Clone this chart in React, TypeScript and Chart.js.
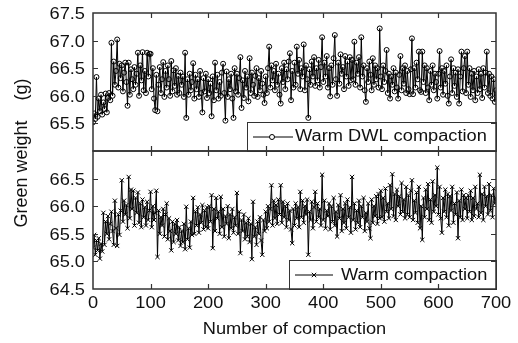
import React, { useEffect, useRef } from "react";
import { Chart, registerables } from "chart.js";

Chart.register(...registerables);

// ---------- data ----------
const COMPACTION_STEP = 2; // one sample every 2 compactions, 0..700
const xTickValues = [0, 100, 200, 300, 400, 500, 600, 700];
const topYTickValues = [65.5, 66.0, 66.5, 67.0, 67.5];
const bottomYTickValues = [64.5, 65.0, 65.5, 66.0, 66.5];

const topLabel = "Warm DWL compaction";
const bottomLabel = "Warm compaction";
const xTitle = "Number of compaction";
const yTitle = "Green weight    (g)";

const warmDwlWeights = [
  // 0-48
  65.52, 65.68, 65.58, 66.34, 65.62, 65.95, 65.72, 66.02, 65.66, 65.88, 65.76, 66.04, 65.7, 65.96, 66.05, 65.92, 66.96, 66.0, 66.62, 66.2, 66.45, 67.02, 66.15, 66.58, 66.32,
  // 50-98
  66.55, 66.08, 66.42, 66.6, 66.25, 65.82, 66.6, 66.02, 66.48, 66.3, 66.12, 66.52, 66.2, 66.4, 66.78, 66.0, 66.55, 66.28, 66.79, 66.1, 66.45, 66.05, 66.78, 66.35, 66.76,
  // 100-148
  66.76, 66.12, 66.5, 65.95, 65.74, 66.38, 65.72, 66.2, 66.52, 66.05, 66.3, 66.61, 65.98, 66.45, 66.15, 66.55, 66.3, 66.0, 66.63, 66.08, 66.46, 66.18, 66.5, 66.02, 66.36,
  // 150-198
  66.05, 66.42, 66.2, 66.35, 65.98, 66.78, 65.6, 66.3, 66.02, 66.4, 66.1, 66.25, 66.59, 65.95, 66.38, 66.12, 66.3, 65.98, 66.45, 66.05, 65.7, 66.32, 66.08, 66.4, 65.96,
  // 200-248
  66.3, 66.05, 66.22, 65.63, 66.35, 65.92, 66.6, 66.1, 66.38, 65.95, 66.25, 66.0, 66.42, 66.58, 66.05, 65.55, 66.44, 65.98, 66.3, 66.12, 66.4, 65.95, 65.6, 66.5, 66.08,
  // 250-298
  66.4, 66.02, 66.32, 66.7, 65.78, 66.28, 65.96, 66.45, 66.15, 66.35, 65.9, 66.68, 66.05, 66.42, 66.2, 66.0, 66.36, 66.5, 65.98, 66.32, 66.1, 66.45, 66.22, 66.02, 65.87,
  // 300-348
  66.35, 66.05, 66.5, 66.89, 66.15, 66.55, 66.28, 66.45, 66.1, 66.58, 66.2, 66.4, 66.02, 65.86, 66.5, 66.25, 66.6, 66.12, 66.48, 66.3, 66.62, 66.77, 65.92, 66.45, 66.15,
  // 350-398
  66.6, 66.2, 66.89, 66.4, 66.65, 66.12, 66.5, 66.35, 66.93, 66.1, 66.55, 66.3, 65.6, 66.48, 66.2, 66.62, 66.35, 66.7, 66.18, 66.5, 66.28, 66.65, 66.15, 66.52, 67.06,
  // 400-448
  66.25, 66.6, 66.35, 66.72, 66.15, 66.5, 65.99, 66.55, 66.2, 66.68, 67.1, 66.3, 66.0, 66.6, 66.22, 66.75, 66.4, 66.52, 66.12, 66.72, 66.35, 66.62, 66.18, 66.7, 66.28,
  // 450-498
  66.65, 66.3, 66.98, 66.2, 66.6, 66.4, 66.7, 66.15, 67.06, 66.35, 66.55, 66.1, 65.89, 66.5, 66.25, 66.62, 66.38, 66.1, 66.68, 66.2, 66.55, 66.3, 66.5, 66.15, 67.22,
  // 500-548
  66.35, 66.12, 66.55, 66.25, 66.45, 66.83, 66.05, 66.4, 65.95, 66.35, 66.2, 66.5, 66.08, 66.42, 66.15, 65.95, 66.38, 66.72, 66.1, 66.5, 66.22, 66.55, 66.05, 66.45, 66.12,
  // 550-598
  66.03, 66.48, 67.04, 66.03, 66.5, 66.15, 66.6, 66.3, 66.8, 66.1, 66.07, 66.8, 66.25, 66.55, 66.05, 66.5, 66.15, 65.92, 66.45, 66.2, 66.55, 66.1, 66.4, 66.25, 65.95,
  // 600-648
  66.4, 66.81, 66.15, 66.5, 66.02, 66.45, 66.22, 66.55, 66.0, 65.86, 66.35, 66.66, 66.05, 66.5, 66.18, 66.42, 65.98, 66.48, 65.86, 66.35, 66.8, 66.08, 66.5, 66.72, 66.05,
  // 650-698
  66.8, 66.2, 66.5, 65.98, 66.4, 66.1, 66.45, 65.92, 66.35, 66.05, 66.48, 66.12, 66.4, 65.96, 66.5, 66.15, 66.42, 66.8, 66.05, 66.4, 66.0, 66.35, 65.95, 66.3, 65.89,
  // 700
  66.1,
];

const warmWeights = [
  // 0-48
  65.25, 65.48, 65.12, 65.38, 65.2, 65.42, 65.05, 65.32, 65.18, 65.88, 65.3, 65.72, 65.5, 65.82, 65.4, 65.68, 65.9, 65.55, 65.3, 66.1, 65.6, 65.28, 65.85, 65.48, 65.92,
  // 50-98
  66.47, 65.72, 66.1, 65.85, 66.02, 65.6, 66.53, 65.78, 66.3, 65.95, 66.28, 65.65, 66.15, 65.88, 66.25, 65.7, 66.05, 65.62, 66.12, 65.8, 65.98, 65.65, 66.08, 65.75, 65.92,
  // 100-148
  66.26, 65.62, 66.0, 65.75, 65.88, 66.28, 65.08, 65.92, 65.5, 65.8, 65.65, 65.95, 65.45, 65.85, 66.05, 65.4, 65.78, 65.55, 65.2, 65.72, 65.35, 65.68, 65.5, 65.75, 65.38,
  // 150-198
  65.62, 65.28, 65.55, 65.35, 65.68, 65.22, 65.99, 65.4, 65.6, 65.25, 65.72, 65.48, 66.15, 65.5, 65.9, 65.65, 65.98, 65.52, 65.85, 65.7, 66.02, 65.58, 65.92, 65.62, 65.98,
  // 200-248
  65.6, 66.0, 65.72, 66.2, 65.24, 65.95, 65.55, 66.15, 65.78, 65.9, 65.5, 66.17, 65.62, 65.95, 65.45, 65.82, 65.68, 66.0, 65.42, 65.85, 65.6, 65.95, 65.52, 65.8, 65.65,
  // 250-298
  66.24, 65.5, 65.9, 65.15, 65.75, 65.55, 65.85, 65.4, 65.7, 65.45, 65.78, 65.35, 65.68, 65.04, 66.08, 65.45, 65.62, 65.3, 65.72, 65.5, 65.8, 65.38, 65.12, 65.75, 65.55,
  // 300-348
  65.9, 65.6, 66.0, 65.72, 65.95, 66.38, 65.65, 66.1, 65.78, 66.02, 65.68, 66.12, 65.85, 66.38, 65.7, 66.08, 65.8, 66.0, 65.62, 66.05, 65.75, 65.92, 65.58, 65.33, 65.95,
  // 350-398
  65.65, 66.05, 65.78, 65.98, 65.62, 66.26, 65.8, 66.1, 65.7, 66.0, 65.85, 66.12, 65.12, 65.9, 65.75, 66.08, 65.6, 65.98, 66.26, 65.72, 66.05, 65.8, 65.95, 65.65, 66.57,
  // 400-448
  65.75, 66.1, 65.6, 65.92, 65.82, 66.05, 65.58, 66.0, 65.72, 66.15, 65.65, 65.9, 65.45, 66.02, 65.78, 66.2, 65.55, 65.95, 65.7, 66.05, 65.6, 66.12, 65.8, 65.98, 65.52,
  // 450-498
  66.53, 65.75, 66.05, 65.58, 65.92, 65.7, 66.1, 65.62, 66.0, 65.8, 66.15, 65.55, 65.88, 65.72, 66.05, 65.6, 65.42, 66.12, 65.7, 66.0, 65.82, 66.18, 65.68, 66.22, 65.78,
  // 500-548
  66.28, 65.8, 66.15, 65.72, 66.32, 65.9, 66.05, 65.78, 66.38, 65.95, 66.58, 65.82, 66.22, 65.75, 66.3, 66.0, 66.18, 65.85, 66.42, 65.9, 66.12, 65.78, 66.35, 65.85, 66.2,
  // 550-598
  65.8, 66.28, 66.47, 65.75, 66.1, 65.88, 66.25, 65.7, 66.35, 65.6, 66.0, 65.39, 66.15, 65.8, 66.3, 65.95, 66.4, 65.75, 66.12, 65.7, 66.45, 65.9, 66.2, 66.0, 66.7,
  // 600-648
  65.85, 66.35, 65.78, 65.52, 66.15, 65.9, 66.3, 65.8, 66.22, 65.65, 66.18, 65.92, 66.35, 65.7, 66.05, 65.85, 66.25, 65.42, 66.1, 65.8, 66.3, 65.75, 66.2, 65.95, 66.15,
  // 650-698
  65.78, 66.2, 65.9, 66.28, 65.75, 66.15, 65.82, 66.35, 65.95, 66.05, 65.8, 66.57, 65.88, 66.22, 65.75, 66.35, 66.0, 66.18, 65.85, 66.4, 65.92, 66.2, 65.8, 66.32, 66.05,
  // 700
  66.15,
];

const toPoints = (vals: number[]) =>
  vals.map((y, i) => ({ x: i * COMPACTION_STEP, y }));

// ---------- drawing helpers ----------
const FONT = '16px "Liberation Sans", Arial, Helvetica, sans-serif';
const TITLE_FONT = '18px "Liberation Sans", Arial, Helvetica, sans-serif';
const STRETCH = 1.14;
const INK = "#111";
const FRAME = "#333";

function drawText(
  ctx: CanvasRenderingContext2D,
  text: string,
  x: number,
  y: number,
  align: CanvasTextAlign
) {
  ctx.save();
  ctx.translate(x, y);
  ctx.scale(STRETCH, 1);
  ctx.font = FONT;
  ctx.fillStyle = INK;
  ctx.textAlign = align;
  ctx.textBaseline = "middle";
  ctx.fillText(text, 0, 0);
  ctx.restore();
}

function drawVerticalText(ctx: CanvasRenderingContext2D, text: string, x: number, y: number) {
  ctx.save();
  ctx.translate(x, y);
  ctx.rotate(-Math.PI / 2);
  ctx.font = TITLE_FONT;
  ctx.fillStyle = INK;
  ctx.textAlign = "center";
  ctx.textBaseline = "middle";
  ctx.fillText(text, 0, 0);
  ctx.restore();
}

function drawCircle(ctx: CanvasRenderingContext2D, x: number, y: number) {
  ctx.beginPath();
  ctx.arc(x, y, 2.5, 0, Math.PI * 2);
  ctx.stroke();
}

function drawCross(ctx: CanvasRenderingContext2D, x: number, y: number) {
  const r = 2.2;
  ctx.beginPath();
  ctx.moveTo(x - r, y - r);
  ctx.lineTo(x + r, y + r);
  ctx.moveTo(x - r, y + r);
  ctx.lineTo(x + r, y - r);
  ctx.stroke();
}

const framePlugin = {
  id: "panelFrames",
  afterDraw(chart: any) {
    const ctx: CanvasRenderingContext2D = chart.ctx;
    const xs = chart.scales.x;
    const yt = chart.scales.yTop;
    const yb = chart.scales.yBottom;
    const left = xs.left;
    const right = xs.right;
    const tTop = yt.top;
    const tBot = yt.bottom;
    const bTop = yb.top;
    const bBot = yb.bottom;
    const TL = 5;

    ctx.save();
    // legends (white boxes over data)
    ctx.lineWidth = 1;
    ctx.strokeStyle = FRAME;
    ctx.fillStyle = "#fff";
    const lgTop = { x: right - 249, y: tBot - 29, w: 249, h: 29 };
    ctx.fillRect(lgTop.x, lgTop.y, lgTop.w, lgTop.h);
    ctx.strokeRect(lgTop.x + 0.5, lgTop.y + 0.5, lgTop.w, lgTop.h);
    const lgBot = { x: right - 207, y: bBot - 29, w: 207, h: 29 };
    ctx.fillStyle = "#fff";
    ctx.fillRect(lgBot.x, lgBot.y, lgBot.w, lgBot.h);
    ctx.strokeRect(lgBot.x + 0.5, lgBot.y + 0.5, lgBot.w, lgBot.h);

    // legend samples
    ctx.strokeStyle = "#000";
    ctx.lineWidth = 1;
    const ly1 = lgTop.y + 15;
    ctx.beginPath();
    ctx.moveTo(lgTop.x + 6, ly1);
    ctx.lineTo(lgTop.x + 46, ly1);
    ctx.stroke();
    ctx.fillStyle = "#fff";
    ctx.beginPath();
    ctx.arc(lgTop.x + 25, ly1, 2.5, 0, Math.PI * 2);
    ctx.fill();
    drawCircle(ctx, lgTop.x + 25, ly1);
    const ly2 = lgBot.y + 15;
    ctx.beginPath();
    ctx.moveTo(lgBot.x + 6, ly2);
    ctx.lineTo(lgBot.x + 44, ly2);
    ctx.stroke();
    drawCross(ctx, lgBot.x + 25, ly2);

    drawText(ctx, topLabel, lgTop.x + 48, ly1, "left");
    drawText(ctx, bottomLabel, lgBot.x + 52, ly2 + 1, "left");

    // frames
    ctx.strokeStyle = FRAME;
    ctx.lineWidth = 1.5;
    ctx.strokeRect(left, tTop, right - left, tBot - tTop);
    ctx.strokeRect(left, bTop, right - left, bBot - bTop);

    // x ticks (inward)
    ctx.lineWidth = 1.2;
    ctx.beginPath();
    for (const v of xTickValues) {
      const px = Math.round(xs.getPixelForValue(v)) + 0.5;
      if (v === xs.min || v === xs.max) continue;
      ctx.moveTo(px, tTop);
      ctx.lineTo(px, tTop + TL);
      ctx.moveTo(px, tBot - TL);
      ctx.lineTo(px, tBot);
      ctx.moveTo(px, bTop);
      ctx.lineTo(px, bTop + TL);
      ctx.moveTo(px, bBot - TL);
      ctx.lineTo(px, bBot);
    }
    // y ticks (inward, both sides)
    for (const v of topYTickValues) {
      if (v === yt.min || v === yt.max) continue;
      const py = Math.round(yt.getPixelForValue(v)) + 0.5;
      ctx.moveTo(left, py);
      ctx.lineTo(left + TL, py);
      ctx.moveTo(right - TL, py);
      ctx.lineTo(right, py);
    }
    for (const v of bottomYTickValues) {
      if (v === yb.min || v === yb.max) continue;
      const py = Math.round(yb.getPixelForValue(v)) + 0.5;
      ctx.moveTo(left, py);
      ctx.lineTo(left + TL, py);
      ctx.moveTo(right - TL, py);
      ctx.lineTo(right, py);
    }
    ctx.stroke();

    // tick labels
    for (const v of topYTickValues) {
      drawText(ctx, v.toFixed(1), left - 8, yt.getPixelForValue(v) + 1.5, "right");
    }
    for (const v of bottomYTickValues) {
      drawText(ctx, v.toFixed(1), left - 8, yb.getPixelForValue(v) + 1.5, "right");
    }
    for (const v of xTickValues) {
      drawText(ctx, String(v), xs.getPixelForValue(v), bBot + 15, "center");
    }

    // axis titles
    drawText(ctx, xTitle, (left + right) / 2, bBot + 41, "center");
    drawVerticalText(ctx, yTitle, 22, (tTop + bBot) / 2 + 2);
    ctx.restore();
  },
};

const hiddenAxis = {
  ticks: { display: false },
  grid: { display: false, drawTicks: false, tickLength: 0 },
  border: { display: false },
  title: { display: false },
};

export default function App() {
  const canvasRef = useRef<HTMLCanvasElement | null>(null);

  useEffect(() => {
    const canvas = canvasRef.current;
    if (!canvas) return;
    const chart = new Chart(canvas, {
      type: "line",
      data: {
        datasets: [
          {
            label: topLabel,
            data: toPoints(warmDwlWeights),
            yAxisID: "yTop",
            borderColor: "#000",
            borderWidth: 1,
            pointStyle: "circle",
            pointRadius: 2.5,
            pointBorderWidth: 1,
            pointBorderColor: "#000",
            pointBackgroundColor: "rgba(255,255,255,0)",
            tension: 0,
            fill: false,
          },
          {
            label: bottomLabel,
            data: toPoints(warmWeights),
            yAxisID: "yBottom",
            borderColor: "#000",
            borderWidth: 1,
            pointStyle: "crossRot",
            pointRadius: 3,
            pointBorderWidth: 1,
            pointBorderColor: "#000",
            pointBackgroundColor: "#000",
            tension: 0,
            fill: false,
          },
        ],
      },
      options: {
        responsive: false,
        maintainAspectRatio: false,
        animation: false,
        devicePixelRatio: 1,
        layout: { padding: { left: 93, right: 22, top: 13, bottom: 54 } },
        plugins: {
          legend: { display: false },
          tooltip: { enabled: false },
        },
        scales: {
          x: {
            type: "linear",
            min: 0,
            max: 700,
            ...hiddenAxis,
          },
          yBottom: {
            type: "linear",
            position: "left",
            stack: "panels",
            stackWeight: 1,
            min: 64.5,
            max: 67.0,
            ...hiddenAxis,
          },
          yTop: {
            type: "linear",
            position: "left",
            stack: "panels",
            stackWeight: 1,
            min: 65.0,
            max: 67.5,
            ...hiddenAxis,
          },
        },
      } as any,
      plugins: [framePlugin],
    });
    return () => chart.destroy();
  }, []);

  return (
    <div style={{ position: "absolute", left: 0, top: 0, width: 518, height: 343, background: "#fff" }}>
      <canvas ref={canvasRef} width={518} height={343} style={{ display: "block" }} />
    </div>
  );
}
